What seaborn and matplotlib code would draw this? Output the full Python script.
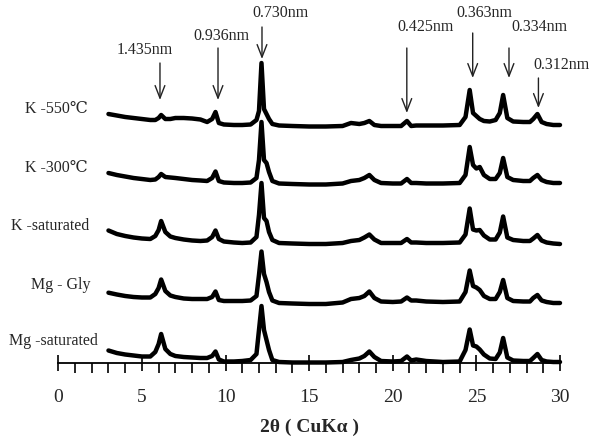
import seaborn as sns
import pandas as pd
import matplotlib.pyplot as plt

# 2theta positions (deg) where the traces were read
two_theta = [3.0, 3.5, 4.0, 4.5, 5.0, 5.5, 5.8, 6.0, 6.15, 6.4,
             6.7, 7.0, 7.5, 8.0, 8.5, 8.9, 9.2, 9.4, 9.6, 9.9,
             10.5, 11.0, 11.5, 11.85, 12.0, 12.15, 12.3, 12.45, 12.6, 12.8,
             13.2, 14.0, 15.0, 16.0, 17.0, 17.5, 18.0, 18.3, 18.6, 18.9,
             19.3, 20.0, 20.5, 20.85, 21.1, 21.4, 22.0, 23.0, 24.0, 24.35,
             24.6, 24.8, 25.0, 25.2, 25.45, 25.8, 26.15, 26.4, 26.6, 26.85,
             27.2, 27.8, 28.2, 28.4, 28.65, 28.9, 29.2, 29.6, 30.0]

samples = ['K -550℃', 'K -300℃', 'K -saturated', 'Mg - Gly', 'Mg -saturated']

k550 = [13, 11.5, 10, 9, 8, 7, 7, 9, 12, 8,
        8, 9, 9, 8.5, 7.5, 5, 8, 15, 4, 2.5,
        2, 2, 2.5, 7, 16, 64, 18, 13, 8, 3,
        1.5, 1, 0.5, 0.5, 1, 4, 3, 4, 6, 2,
        1, 1, 1, 6, 1, 1.5, 1.5, 1.5, 2, 10,
        37, 14, 11, 8, 6, 5.5, 7, 14, 32, 9,
        5.5, 5, 5, 8, 13, 5, 3, 2, 2]
k300 = [12, 10, 8.5, 7, 6, 5, 5.5, 8, 11, 8,
        7.5, 7, 6, 5, 4.5, 4, 7, 13.5, 4, 2.5,
        2, 2, 2.5, 7, 25, 63, 25, 22, 13, 4,
        1.5, 1, 0.5, 0.5, 1.5, 4, 5, 7, 10, 5,
        2, 1.5, 1.5, 6, 2, 2, 1.5, 1.5, 2, 10,
        38, 20, 16.5, 18, 10, 6, 6, 12, 27, 8,
        5, 4, 4, 7, 10, 5, 3, 2, 2]
k_sat = [14, 10.5, 8.5, 7, 6, 5.5, 8.5, 14.5, 23.5, 12.5,
         8, 6.5, 5, 4, 3.5, 4, 7.5, 14, 5.5, 3,
         2, 1.5, 2, 7.5, 29.5, 61.5, 26.5, 23.5, 12.5, 4.5,
         1.5, 1, 0.5, 0.5, 1.5, 3.5, 4.5, 7, 10, 5,
         1.5, 1.5, 1.5, 5.5, 2, 2, 1.5, 1.5, 2, 10,
         36, 15, 14, 14.5, 9, 5, 5, 12, 28, 7,
         4.5, 3.5, 3.5, 6, 9.5, 4, 2, 1, 0.5]
mg_gly = [11.3, 9.5, 8, 7, 6.5, 6.5, 10, 16, 24.5, 13,
          8.5, 7, 5.5, 5, 5, 5, 7, 12.5, 4, 3,
          3, 3, 3.5, 8, 29, 52.5, 30, 22, 12, 3.5,
          1, 0.5, 0, 0, 1.5, 5, 6, 8, 12.5, 6,
          2.5, 2, 2.5, 6.5, 3.5, 3.5, 2.5, 2, 2.5, 12,
          33.5, 18, 16.5, 14, 8, 5, 5, 12, 24, 6,
          3, 2.5, 2.5, 6, 9, 3.5, 2, 1, 1]
mg_sat = [12, 9.5, 8, 7, 6, 6, 10.5, 18.5, 28.5, 13.5,
          8.5, 6.5, 5.5, 5, 4.5, 4.5, 6.5, 11, 3, 1,
          1, 1.5, 2.5, 8.5, 32.5, 56.5, 32.5, 22.5, 12.5, 2.5,
          0.5, 0, 0, 0, 0.5, 2.5, 4, 6.5, 11, 5.5,
          1.5, 1, 1.5, 6, 2, 3, 1.5, 0.5, 1, 12.5,
          33, 17, 16, 13, 8, 4, 3.5, 10, 24.5, 5,
          2, 1.5, 1.5, 4.5, 8.5, 2.5, 1, 0.5, 0.5]
intensities = [k550, k300, k_sat, mg_gly, mg_sat]

# vertical stacking of the traces
offsets = [236, 178, 118.5, 59, 0.5]

# d-spacing labels and arrows
d_labels = ['1.435nm', '0.936nm', '0.730nm', '0.425nm', '0.363nm', '0.334nm', '0.312nm']
arrow_x = [6.08, 9.55, 12.18, 20.84, 24.78, 26.95, 28.71]
arrow_top = [300, 315, 336, 315, 330, 315, 285]
arrow_tip = [263, 263, 304, 250, 285, 285, 255]
text_x = [5.18, 9.73, 13.26, 21.99, 25.46, 28.75, 30.07]
text_y = [313, 327, 350, 336, 350, 336, 298]

label_x = [-0.14, -0.14, -0.5, 0.16, -0.32]
label_y = [250, 191, 133, 74, 18]

rows = []
for name, vals, off in zip(samples, intensities, offsets):
    for t, v in zip(two_theta, vals):
        rows.append({'two_theta': t, 'y': v + off, 'sample': name})
df = pd.DataFrame(rows)

sns.set_style('white')
plt.rcParams['font.family'] = ['Liberation Serif', 'DejaVu Serif', 'Noto Sans CJK SC']

fig = plt.figure(figsize=(5.91, 4.38), dpi=100)
ax = fig.add_axes([58.3 / 591, 75 / 438, 501.7 / 591, 363 / 438])

sns.lineplot(data=df, x='two_theta', y='y', hue='sample', units='sample',
             estimator=None, sort=False, palette=['black'] * 5, lw=3.2,
             legend=False, ax=ax, clip_on=False)

for name, lx, ly in zip(samples, label_x, label_y):
    ax.text(lx, ly, name, ha='center', va='baseline', fontsize=11.5)

for lab, x, y0, y1, tx, ty in zip(d_labels, arrow_x, arrow_top, arrow_tip, text_x, text_y):
    ax.annotate('', xy=(x, y1), xytext=(x, y0),
                arrowprops=dict(arrowstyle='->,head_length=0.9,head_width=0.35',
                                mutation_scale=10, lw=1, color='#222222',
                                shrinkA=0, shrinkB=0))
    ax.text(tx, ty, lab, ha='center', va='center', fontsize=11.5)

ax.set_xlim(0, 30)
ax.set_ylim(0, 363)
ax.set_xticks(range(0, 31, 5))
ax.set_xticks(range(0, 31), minor=True)
ax.set_yticks([])
ax.tick_params(axis='x', which='major', direction='inout', length=12, width=1.2,
               labelsize=14, pad=13, color='black', bottom=True)
ax.tick_params(axis='x', which='minor', direction='out', length=7, width=1.2,
               color='black', bottom=True)
for s in ['left', 'top', 'right']:
    ax.spines[s].set_visible(False)
ax.spines['bottom'].set_linewidth(1.3)
ax.spines['bottom'].set_color('black')
ax.set_xlabel('2θ ( CuKα )', fontsize=14, fontweight='bold', labelpad=9)
ax.set_ylabel('')

fig.savefig('out.png', dpi=100)
